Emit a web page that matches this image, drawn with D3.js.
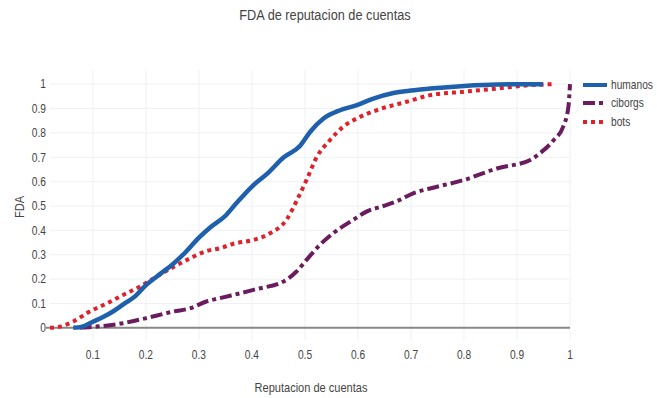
<!DOCTYPE html>
<html><head><meta charset="utf-8">
<script src="https://cdn.jsdelivr.net/npm/d3@7"></script>
<style>html,body{margin:0;padding:0;background:#fff;}text{font-family:"Liberation Sans",Arial,sans-serif;fill:#444;}</style>
</head><body><svg id="c" width="657" height="398"></svg>
<script>
const title = "FDA de reputacion de cuentas";
const xTitle = "Reputacion de cuentas";
const yTitle = "FDA";
const xTicks = [0.1,0.2,0.3,0.4,0.5,0.6,0.7,0.8,0.9,1];
const yTicks = [0,0.1,0.2,0.3,0.4,0.5,0.6,0.7,0.8,0.9,1];
const seriesNames = ["humanos","ciborgs","bots"];

const humanosX = [0.063,0.08,0.1,0.12,0.14,0.16,0.18,0.2,0.22,0.25,0.27,0.3,0.32,0.35,0.37,0.4,0.43,0.46,0.49,0.51,0.535,0.566,0.598,0.629,0.667,0.7,0.736,0.8,0.862,0.949];
const humanosY = [0,0.005,0.025,0.045,0.07,0.1,0.13,0.175,0.21,0.26,0.3,0.37,0.41,0.46,0.51,0.58,0.635,0.7,0.745,0.805,0.859,0.893,0.914,0.941,0.964,0.974,0.982,0.993,0.999,1];

const ciborgsX = [0.075,0.107,0.157,0.201,0.252,0.283,0.314,0.34,0.403,0.465,0.484,0.503,0.528,0.553,0.591,0.616,0.648,0.679,0.704,0.736,0.8,0.862,0.925,0.943,0.969,0.987,0.997,1];
const ciborgsY = [0,0.005,0.019,0.04,0.067,0.08,0.108,0.122,0.156,0.197,0.231,0.279,0.34,0.388,0.443,0.477,0.50,0.525,0.552,0.572,0.607,0.654,0.689,0.716,0.77,0.825,0.907,1];

const botsX = [0.019,0.038,0.063,0.094,0.126,0.157,0.189,0.22,0.252,0.283,0.314,0.34,0.365,0.403,0.434,0.465,0.484,0.503,0.522,0.547,0.572,0.604,0.642,0.692,0.736,0.8,0.862,0.925,0.969];
const botsY = [0,0.005,0.026,0.067,0.1,0.135,0.17,0.21,0.25,0.285,0.315,0.327,0.345,0.361,0.388,0.443,0.52,0.607,0.70,0.77,0.825,0.866,0.898,0.928,0.955,0.969,0.982,0.996,1];

const svg = d3.select("#c");
const L = 50, R = 570, T = 72, B = 340;
const x = d3.scaleLinear().domain([0.019,1]).range([L,R]);
const y = d3.scaleLinear().domain([-0.05,1.05]).range([B,T]);
const SX = 0.85;

function txt(g, s, tx, ty, size, anchor, rot){
  const gg = g.append("g").attr("transform",`translate(${tx},${ty})` + (rot?` rotate(${rot})`:"") + ` scale(${SX},1)`);
  gg.append("text").attr("text-anchor",anchor||"middle").attr("dominant-baseline","central").style("font-size",size+"px").text(s);
}

// grid
const grid = svg.append("g");
grid.selectAll("line.h").data(yTicks).join("line").attr("x1",L).attr("x2",R)
  .attr("y1",d=>y(d)).attr("y2",d=>y(d)).attr("stroke","#eef0f3").attr("stroke-width",1);
grid.selectAll("line.v").data(xTicks).join("line").attr("y1",T-2).attr("y2",B)
  .attr("x1",d=>x(d)).attr("x2",d=>x(d)).attr("stroke","#eef0f3").attr("stroke-width",1);
// zero line
svg.append("line").attr("x1",L-4).attr("x2",R).attr("y1",y(0)).attr("y2",y(0)).attr("stroke","#888").attr("stroke-width",2);

// tick labels
const tl = svg.append("g");
yTicks.forEach(v=>txt(tl, d3.format("")(v), L-4, y(v), 12, "end"));
xTicks.forEach(v=>txt(tl, d3.format("")(v), x(v), 355, 12, "middle"));

// lines
const colors = {humanos:"#1f60ac", ciborgs:"#6a1c5e", bots:"#e0212b"};
const dashes = {humanos:null, ciborgs:"12,4,4,4", bots:"4,4"};
const widths = {humanos:4.5, ciborgs:4, bots:4};
const data = {
  humanos: humanosX.map((v,i)=>[v,humanosY[i]]),
  ciborgs: ciborgsX.map((v,i)=>[v,ciborgsY[i]]),
  bots: botsX.map((v,i)=>[v,botsY[i]])
};
const line = d3.line().x(d=>x(d[0])).y(d=>y(d[1])).curve(d3.curveMonotoneX);
["ciborgs","bots","humanos"].forEach(n=>{
  svg.append("path").attr("d",line(data[n])).attr("fill","none")
    .attr("stroke",colors[n]).attr("stroke-width",widths[n]).attr("stroke-dasharray",dashes[n]);
});

// legend
const lg = svg.append("g");
seriesNames.forEach((n,i)=>{
  const yy = [85,103,122][i];
  lg.append("line").attr("x1",583).attr("x2",607).attr("y1",yy).attr("y2",yy)
    .attr("stroke",colors[n]).attr("stroke-width",4).attr("stroke-dasharray",dashes[n]);
  txt(lg, n, 611, yy, 12, "start");
});

// titles
txt(svg, title, 325, 15, 15, "middle");
txt(svg, xTitle, 311, 388, 13, "middle");
txt(svg, yTitle, 20, 207, 13, "middle", -90);
</script></body></html>
